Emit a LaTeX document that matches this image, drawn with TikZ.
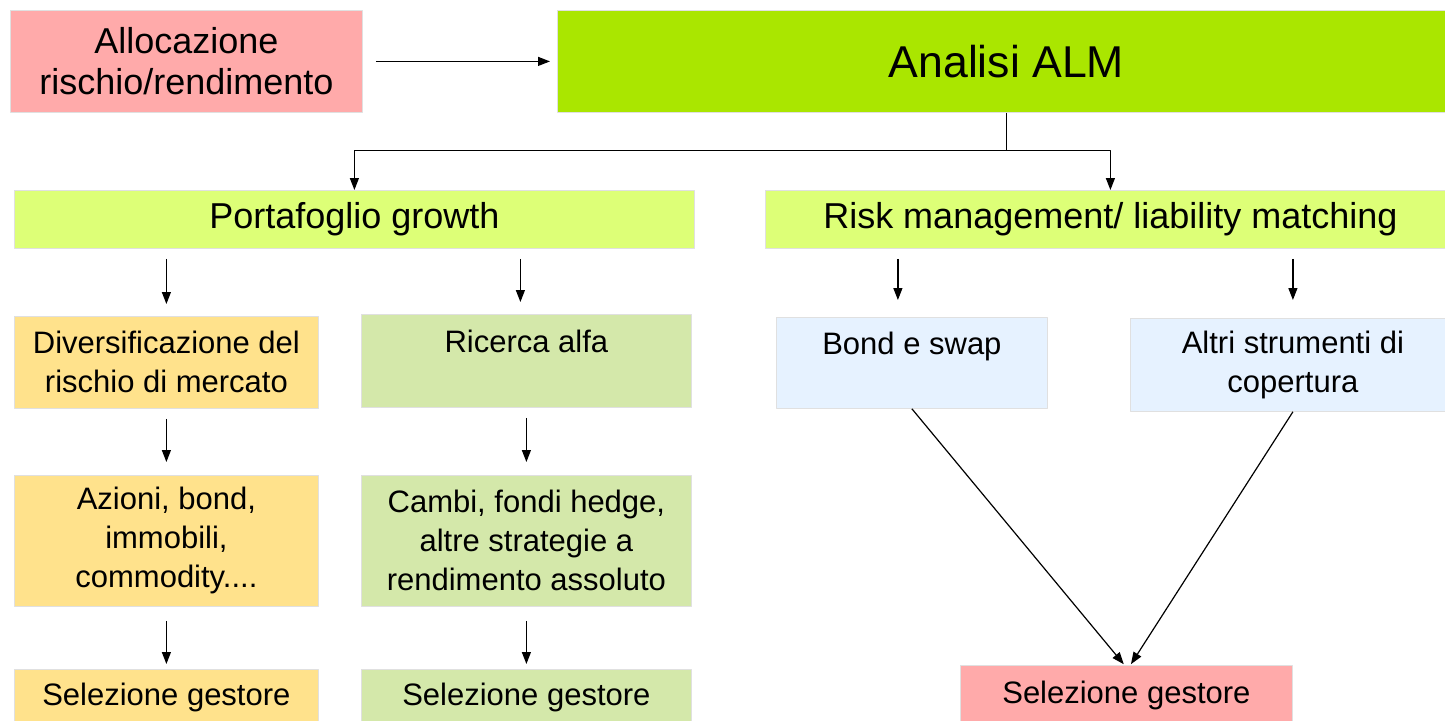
\documentclass[tikz,border=0pt]{standalone}
\usepackage{fontspec}
\setmainfont{Liberation Sans}
\usetikzlibrary{arrows.meta}
\definecolor{rosa}{RGB}{255,170,170}
\definecolor{almverde}{RGB}{170,230,0}
\definecolor{lime}{RGB}{221,255,119}
\definecolor{giallo}{RGB}{255,226,140}
\definecolor{verde}{RGB}{212,232,170}
\definecolor{azzurro}{RGB}{230,242,255}
\begin{document}
\begin{tikzpicture}[x=0.5pt, y=-0.5pt, line join=round, >={Triangle[length=6pt,width=4.5pt]},
    box/.style 2 args={draw=black!12, line width=0.4pt, inner sep=0pt, anchor=north west,
      align=center, minimum width=#1*0.5pt, minimum height=#2*0.5pt,
      font=\fontsize{15.5}{19.5}\selectfont},
    big/.style={font=\fontsize{18}{20.5}\selectfont},
    conn/.style={->, line width=0.6pt},
    gap/.style={conn, shorten <=5pt, shorten >=6pt}]
  \useasboundingbox (0,0) rectangle (1445,720);
  \clip (0,0) rectangle (1445,720);
  % top row
  \node[box={352}{102}, fill=rosa, big] (alloc) at (10,10) {Allocazione\\rischio/rendimento};
  \node[box={898}{102}, fill=almverde, font=\fontsize{22.3}{26}\selectfont] (alm) at (557,10) {Analisi ALM};
  \node[box={680}{58}, fill=lime, big] (pg) at (14,190) {Portafoglio growth};
  \node[box={690}{58}, fill=lime, big] (rm) at (765,190) {Risk management/ liability matching};
  % second row
  \node[box={304}{92}, fill=giallo] (div) at (14,316) {Diversificazione del\\rischio di mercato};
  \node[box={330}{93}, fill=verde] (alfa) at (361,314) {Ricerca alfa\\~};
  \node[box={271}{91}, fill=azzurro] (bond) at (776,317) {Bond e swap\\~};
  \node[box={325}{93}, fill=azzurro] (altri) at (1130,318) {Altri strumenti di\\copertura};
  % third row
  \node[box={304}{131}, fill=giallo] (azioni) at (14,475) {Azioni, bond,\\immobili,\\commodity....};
  \node[box={330}{131}, fill=verde] (cambi) at (361,475) {Cambi, fondi hedge,\\altre strategie a\\rendimento assoluto};
  % bottom row
  \node[box={304}{56}, fill=giallo] (selA) at (14,669) {Selezione gestore};
  \node[box={330}{56}, fill=verde] (selB) at (361,669) {Selezione gestore};
  \node[box={332}{60}, fill=rosa] (selC) at (960,665) {Selezione gestore};
  % connectors
  \draw[conn, shorten <=6.5pt, shorten >=3.5pt] (alloc.east) -- (alm.west);
  \draw[conn] (alm.south) -- ++(0,38) -| (pg.north);
  \draw[conn] (alm.south) -- ++(0,38) -| (rm.north);
  \draw[gap] (pg.south -| div.north) -- (div.north);
  \draw[gap] ([xshift=-3pt]pg.south -| alfa.north) -- ([xshift=-3pt]alfa.north);
  \draw[gap, shorten >=8.5pt] ([xshift=-7pt]rm.south -| bond.north) -- ([xshift=-7pt]bond.north);
  \draw[gap, shorten >=9pt] (rm.south -| altri.north) -- (altri.north);
  \draw[gap, shorten >=6.5pt] (div.south) -- (azioni.north);
  \draw[gap, shorten >=6.5pt] (alfa.south) -- (cambi.north);
  \draw[gap, shorten <=7pt, shorten >=2.5pt] (azioni.south) -- (selA.north);
  \draw[gap, shorten <=7pt, shorten >=2.5pt] (cambi.south) -- (selB.north);
  \draw[conn, shorten >=0.5pt] (bond.south) -- ([xshift=-1pt]selC.north);
  \draw[conn, shorten >=0.5pt] (altri.south) -- ([xshift=2pt]selC.north);
\end{tikzpicture}
\end{document}
